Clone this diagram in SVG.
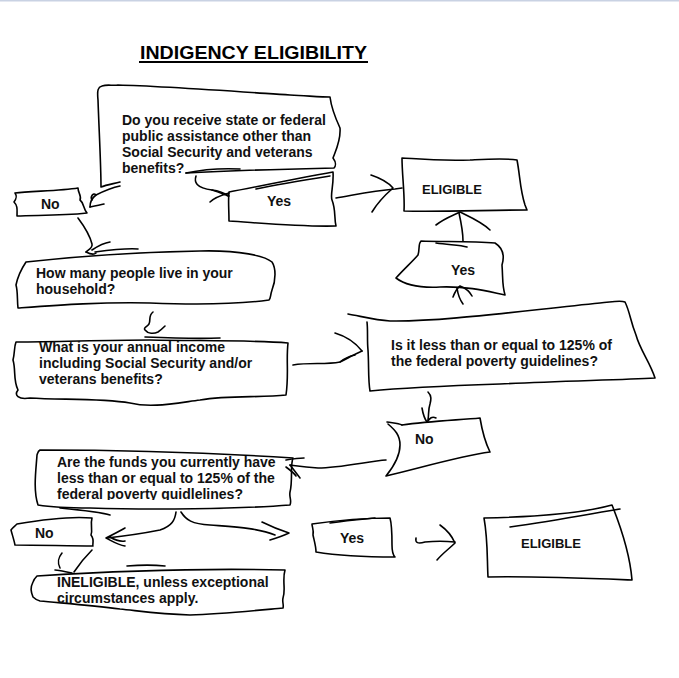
<svg xmlns="http://www.w3.org/2000/svg" width="679" height="678" viewBox="0 0 679 678">
<defs>
<clipPath id="clipFunds"><rect x="0" y="440" width="300" height="60"/></clipPath>
</defs>
<style>
.s{fill:none;stroke:#000;stroke-width:1.6;stroke-linecap:round;stroke-linejoin:round}
.t{font-family:"Liberation Sans",Arial,sans-serif;font-weight:bold;font-size:14px;fill:#111}
.title{font-family:"Liberation Sans",Arial,sans-serif;font-weight:bold;font-size:19px;fill:#000}
</style>
<rect x="0" y="0" width="679" height="678" fill="#fff"/>
<rect x="0" y="0" width="679" height="1.5" fill="#c9d2e3"/>

<g id="title">
<text class="title" x="140" y="59" textLength="227" lengthAdjust="spacingAndGlyphs">INDIGENCY ELIGIBILITY</text>
<rect x="139" y="61" width="229" height="2" fill="#000"/>
</g>

<g id="q1">
<path class="s" d="M120,182 C112,184 106,185 101,187 C101,165 99,130 98,100 C97,90 98,87 102,86 C108,84 112,86 118,85 C160,86 230,91 290,95 C310,96 322,97 330,97 C331,105 334,115 340,128 C341,140 336,150 333,158 C336,162 336,166 334,168 C290,169 240,170 186,173"/>
<path class="s" d="M186,173 C200,170 220,168 240,169"/>
<text class="t" x="122" y="125">Do you receive state or federal</text>
<text class="t" x="122" y="141">public assistance other than</text>
<text class="t" x="122" y="157">Social Security and veterans</text>
<text class="t" x="122" y="173">benefits?</text>
</g>

<g id="yes1">
<path class="s" d="M229,192 C260,186 300,178 333,172 C334,185 330,195 332,200 C336,210 334,218 336,226 C300,227 260,223 229,221 C229,210 228,200 229,192 Z"/>
<path class="s" d="M256,189 C280,184 305,180 330,176"/>
<text class="t" x="267" y="206">Yes</text>
</g>

<g id="no1">
<path class="s" d="M15,193 C30,191 60,191 78,188 C78,193 82,196 80,200 C84,203 83,208 87,213 C60,216 35,215 17,216 C17,210 18,206 14,202 C17,198 17,196 15,193 Z"/>
<text class="t" x="41" y="209">No</text>
</g>

<g id="eligible1">
<path class="s" d="M402,158 C410,158 430,161 470,160 C490,159 505,158 517,160 C520,175 520,190 525,205 L527,210 C490,210 440,212 404,211 C405,195 402,175 402,158 Z"/>
<text class="t" x="422" y="194" style="font-size:13px">ELIGIBLE</text>
</g>

<g id="yes2">
<path class="s" d="M396,278 C405,268 412,262 418,255 C420,248 418,244 421,241 C440,242 470,241 495,243 C503,248 505,255 502,265 C503,278 502,285 505,295 C490,292 470,286 440,287 C420,288 405,285 396,278 Z"/>
<path class="s" d="M436,243 C450,245 460,245 467,247"/>
<text class="t" x="451" y="275">Yes</text>
</g>

<g id="howmany">
<path class="s" d="M26,262 C80,256 150,252 200,251 C240,250 265,256 272,262 C276,268 276,280 272,290 C270,296 271,298 269,300 C240,304 200,305 150,303 C100,302 60,305 18,308 C17,300 18,292 16,285 C18,275 22,268 26,262 Z"/>
<path class="s" d="M95,252 C110,250 125,248 138,249"/>
<text class="t" x="36" y="278">How many people live in your</text>
<text class="t" x="36" y="294">household?</text>
</g>

<g id="income">
<path class="s" d="M16,342 C60,342 100,340 150,340 C200,341 250,340 288,343 C286,360 289,375 286,395 C260,398 230,395 200,400 C170,404 150,408 130,403 C100,398 60,400 30,398 C18,400 14,395 18,390 C13,380 16,370 13,360 C15,352 14,347 16,342 Z"/>
<path class="s" d="M145,337 C170,338 195,339 220,338"/>
<text class="t" x="39" y="352">What is your annual income</text>
<text class="t" x="39" y="368">including Social Security and/or</text>
<text class="t" x="39" y="384">veterans benefits?</text>
</g>

<g id="less125">
<path class="s" d="M348,314 C360,316 375,320 390,321 C440,322 520,311 600,303 C612,302 620,300 625,302 C630,312 630,320 636,335 C640,350 650,362 655,378 C620,380 560,381 500,384 C440,386 400,388 370,391 C368,380 369,365 368,350 C367,340 368,330 367,322"/>
<text class="t" x="391" y="350">Is it less than or equal to 125% of</text>
<text class="t" x="391" y="366">the federal poverty guidelines?</text>
</g>

<g id="no2">
<path class="s" d="M402,425 C430,421 460,420 480,418 C482,430 484,440 490,452 C460,456 420,468 386,476 C395,465 400,455 400,445 C400,435 395,430 388,424"/>
<path class="s" d="M387,422 C392,423 398,423 402,425"/>
<text class="t" x="415" y="444">No</text>
</g>

<g id="funds">
<path class="s" d="M40,450 C100,450 200,452 293,458 C290,465 293,480 290,492 C289,498 292,500 290,505 C240,509 150,510 90,508 C70,508 50,507 38,505 C33,490 36,470 37,455 C38,452 38,451 40,450 Z"/>
<path class="s" d="M60,508 C80,510 100,512 110,515"/>
<g clip-path="url(#clipFunds)">
<text class="t" x="57" y="467">Are the funds you currently have</text>
<text class="t" x="57" y="483">less than or equal to 125% of the</text>
<text class="t" x="57" y="499">federal poverty guidlelines?</text>
</g>
</g>

<g id="no3">
<path class="s" d="M17,524 C40,520 70,516 92,518 C90,525 93,530 91,535 C95,540 92,545 93,546 C70,546 40,545 15,545 C14,540 12,534 11,530 C13,527 15,526 17,524 Z"/>
<text class="t" x="35" y="538">No</text>
</g>

<g id="ineligible">
<path class="s" d="M37,576 C100,572 200,568 285,570 C282,580 286,590 283,598 C282,602 284,605 283,608 C250,611 220,614 190,615 C160,614 140,611 120,609 C90,605 60,603 40,601 C36,600 34,598 33,597 C31,592 30,588 33,582 C34,579 35,578 37,576 Z"/>
<path class="s" d="M127,566 C140,565 155,565 165,566"/>
<text class="t" x="57" y="587">INELIGIBLE, unless exceptional</text>
<text class="t" x="57" y="603">circumstances apply.</text>
</g>

<g id="yes3">
<path class="s" d="M312,524 C340,520 370,518 390,518 C392,525 392,535 392,545 C392,552 393,555 395,557 C370,557 340,556 316,552 C316,546 314,540 313,535 C314,530 312,527 312,524 Z"/>
<path class="s" d="M330,523 C350,520 365,519 375,518"/>
<text class="t" x="340" y="543">Yes</text>
</g>

<g id="eligible2">
<path class="s" d="M484,518 C530,517 580,514 612,505 C622,530 630,555 632,580 C580,578 530,576 488,577 C487,560 488,540 484,518 Z"/>
<path class="s" d="M510,527 C560,520 600,512 620,509"/>
<text class="t" x="521" y="548" style="font-size:13px">ELIGIBLE</text>
</g>

<g id="connectors">
<path class="s" d="M196,176 C194,182 196,188 212,190 C220,191 226,194 229,196"/>
<path class="s" d="M210,202 C215,197 222,195 229,193 M212,190 C218,192 224,194 228,196"/>
<path class="s" d="M120,186 C110,188 102,192 96,195 C92,198 90,203 90,207"/>
<path class="s" d="M96,195 C93,192 90,197 92,200 M90,207 C95,206 100,205 104,204"/>
<path class="s" d="M336,198 C350,196 370,191 395,189 L402,188"/>
<path class="s" d="M371,175 C380,178 388,182 393,188 C385,195 378,202 372,212"/>
<path class="s" d="M463,241 C463,232 461,222 459,213"/>
<path class="s" d="M436,225 C445,218 452,216 460,212 C468,216 482,222 490,230"/>
<path class="s" d="M463,304 C460,300 458,295 457,288"/>
<path class="s" d="M453,297 C455,292 457,288 460,286 C465,288 470,292 472,296"/>
<path class="s" d="M78,218 C84,226 90,236 92,244 C93,248 88,250 86,252"/>
<path class="s" d="M92,250 C98,246 103,243 110,242 M86,252 C90,254 94,255 96,253"/>
<path class="s" d="M153,312 C148,316 151,320 149,324 C147,327 143,328 145,330 C148,334 154,334 158,332 C161,330 163,328 165,326"/>
<path class="s" d="M293,365 C310,362 325,365 340,362 C348,358 355,354 362,351"/>
<path class="s" d="M335,333 C345,336 355,342 362,351 M340,362 C345,358 350,356 355,355"/>
<path class="s" d="M428,392 C432,396 431,400 430,404 C428,410 429,414 428,420"/>
<path class="s" d="M422,408 C423,414 424,418 427,422 C430,418 432,416 436,418"/>
<path class="s" d="M386,460 C370,461 340,468 318,468 C305,467 298,466 290,465"/>
<path class="s" d="M286,460 C292,459 298,458 304,458 M290,465 C294,470 297,474 300,478 M286,467 C290,470 294,473 296,476"/>
<path class="s" d="M176,512 C175,520 172,526 160,530 C145,533 125,536 107,538"/>
<path class="s" d="M125,528 C118,532 112,535 106,538 C112,541 118,545 125,546 M110,537 C115,540 120,542 125,541"/>
<path class="s" d="M181,512 C186,520 192,524 210,525 C235,527 258,528 275,535"/>
<path class="s" d="M262,522 C270,526 280,530 289,533 C283,536 277,538 270,540"/>
<path class="s" d="M92,550 C86,556 80,563 74,572"/>
<path class="s" d="M60,568 C57,562 58,558 62,553 M55,570 C60,570 66,572 72,573"/>
<path class="s" d="M416,538 C415,543 418,544 425,542 C435,541 445,541 455,542"/>
<path class="s" d="M440,525 C447,530 452,536 455,543 C450,548 443,553 437,560"/>
</g>
</svg>
